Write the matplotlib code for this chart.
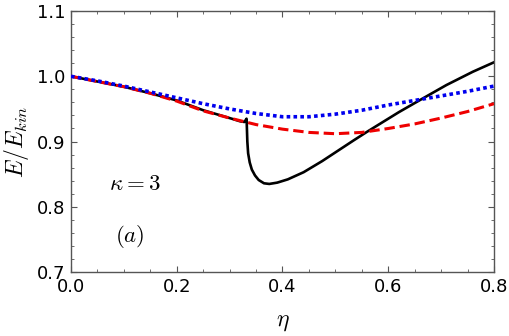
import matplotlib
matplotlib.use("Agg")
import matplotlib.pyplot as plt
from matplotlib.ticker import MultipleLocator, FormatStrFormatter

plt.rcParams['mathtext.fontset'] = 'cm'

eta = [0.0, 0.05, 0.1, 0.15, 0.2, 0.25, 0.3, 0.35, 0.4, 0.45, 0.5, 0.55, 0.6, 0.65, 0.7, 0.75, 0.8]
blue = [1.000, 0.993, 0.985, 0.976, 0.967, 0.958, 0.950, 0.943, 0.938, 0.938, 0.942, 0.948, 0.956, 0.963, 0.970, 0.977, 0.985]
red = [1.000, 0.992, 0.984, 0.974, 0.962, 0.947, 0.936, 0.926, 0.919, 0.914, 0.912, 0.914, 0.920, 0.927, 0.936, 0.946, 0.958]

eta_black = [0.0, 0.05, 0.1, 0.15, 0.2, 0.25, 0.3, 0.32, 0.328, 0.332, 0.3325, 0.3335, 0.335, 0.338, 0.342,
             0.348, 0.355, 0.365, 0.375, 0.39, 0.41, 0.44, 0.475, 0.505, 0.535, 0.56, 0.59, 0.62, 0.66,
             0.71, 0.76, 0.8]
black = [1.000, 0.992, 0.984, 0.974, 0.963, 0.948, 0.936, 0.931, 0.930, 0.935, 0.925, 0.900, 0.882, 0.868, 0.857,
         0.848, 0.841, 0.836, 0.835, 0.837, 0.842, 0.853, 0.870, 0.886, 0.902, 0.915, 0.930, 0.945, 0.9636,
         0.9866, 1.007, 1.0215]

fig = plt.figure(figsize=(5.09, 3.36), dpi=100)
ax = fig.add_axes([0.1395, 0.1905, 0.831, 0.7765])

ax.plot(eta_black, black, color='black', lw=1.9, zorder=2)
ax.plot(eta, red, color='#ee0000', lw=2.2, linestyle=(0, (3.4, 1.6)), zorder=3)
ax.plot(eta, blue, color='#0000ee', lw=2.6, linestyle=(0, (1.0, 0.9)), zorder=4)

ax.set_xlim(0, 0.8)
ax.set_ylim(0.7, 1.1)
ax.xaxis.set_major_locator(MultipleLocator(0.2))
ax.xaxis.set_minor_locator(MultipleLocator(0.05))
ax.yaxis.set_major_locator(MultipleLocator(0.1))
ax.yaxis.set_minor_locator(MultipleLocator(0.02))
ax.tick_params(which='both', direction='in', top=True, right=True, color='#555555')
ax.tick_params(which='major', length=4, width=0.8, labelsize=13, pad=4)
ax.tick_params(which='minor', length=2.2, width=0.6)
ax.xaxis.set_major_formatter(FormatStrFormatter('%.1f'))
ax.yaxis.set_major_formatter(FormatStrFormatter('%.1f'))
for s in ax.spines.values():
    s.set_color('#555555')
    s.set_linewidth(1.0)

ax.set_xlabel(r'$\eta$', fontsize=17, labelpad=10)
ax.set_ylabel(r'$E/E_{kin}$', fontsize=17, labelpad=4)

ax.text(0.12, 0.836, r'$\kappa=3$', fontsize=16.5, ha='center', va='center')
ax.text(0.112, 0.755, r'$(a)$', fontsize=16.5, ha='center', va='center')

fig.savefig('out.png', dpi=100)
